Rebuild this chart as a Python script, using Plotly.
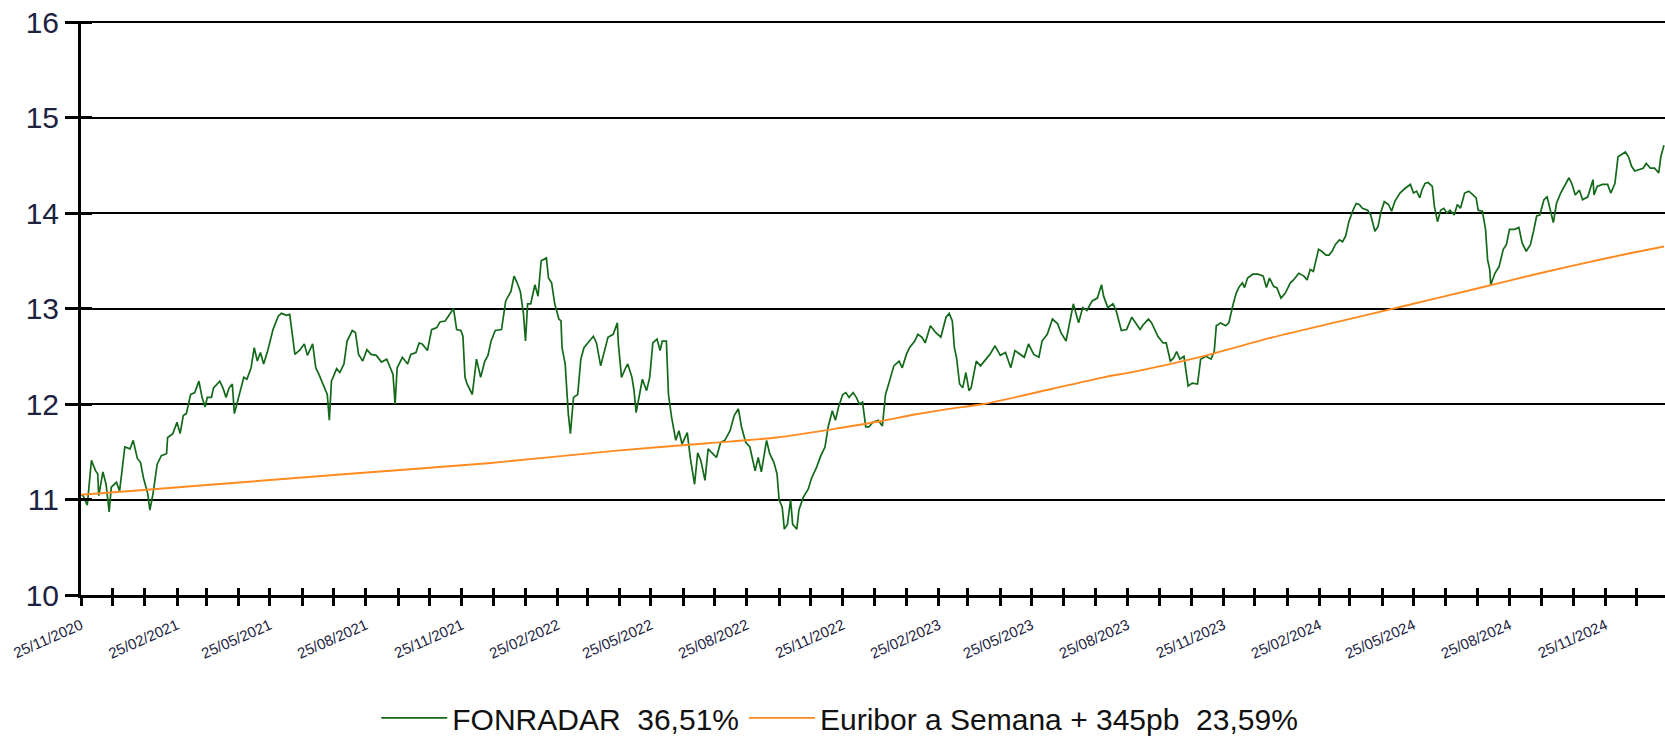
import pandas as pd
import plotly.graph_objects as go

# ---------------- data ----------------
start_date = "2020-11-25"

# FONRADAR: days elapsed since 25/11/2020, and value
fon_days = [0, 2, 6, 10, 14, 16, 17, 21, 24, 27, 29, 34, 37, 42, 47, 50, 54, 57, 60, 64, 66, 69, 73, 77, 82, 83,
            88, 92, 95, 98, 101, 105, 109, 113, 116, 119, 121, 125, 127, 133, 136, 139, 142, 145, 147, 151, 156,
            159, 163, 166, 169, 172, 175, 179, 184, 189, 192, 197, 200, 205, 210, 214, 217, 222, 225, 228, 232,
            236, 238, 240, 245, 248, 252, 255, 260, 263, 266, 270, 274, 278, 283, 288, 293, 296, 299, 301, 303,
            308, 313, 316, 321, 324, 327, 332, 336, 341, 344, 349, 352, 355, 357, 360, 364, 366, 368, 370, 375,
            379, 383, 387, 390, 393, 397, 403, 407, 412, 415, 418, 421, 424, 426, 428, 431, 435, 438, 441, 446,
            448, 451, 454, 458, 460, 461, 464, 467, 469, 472, 476, 479, 482, 487, 491, 494, 498, 502,
            505, 510, 514, 515, 518, 522, 524, 528, 530, 532, 535, 538, 542, 545, 548, 552, 555, 557, 561, 563,
            566, 570, 573, 576, 581, 584, 588, 591, 594, 598, 601, 605, 609, 613, 617, 622, 626, 630, 633, 637,
            641, 646, 649, 652, 654, 657, 660, 664, 667, 669, 672, 674, 677, 680, 682, 686, 688, 692, 697, 700,
            705, 709, 713, 716, 720, 723, 726, 730, 733, 736, 740, 743, 746, 749, 752, 755, 759, 764, 768, 771,
            774, 779, 784, 787, 791, 794, 799, 802, 806, 809, 814, 819, 824, 829, 832, 835, 837, 839, 842, 845,
            848, 851, 853, 858, 862, 867, 871, 876, 881, 886, 891, 895, 900, 904, 908, 913, 918, 921, 926, 931,
            936, 939, 944, 947, 951, 956, 960, 964, 969, 974, 978, 980, 984, 989, 992, 997, 1002, 1007,
            1015, 1018, 1023, 1026, 1029, 1032, 1037, 1040, 1044, 1047, 1050, 1053, 1057, 1058, 1061, 1065, 1070,
            1073, 1078, 1083, 1086, 1088, 1092, 1097, 1100, 1104, 1107, 1110, 1113, 1115, 1118, 1123, 1128, 1133,
            1136, 1139, 1143, 1146, 1150, 1154, 1159, 1162, 1167, 1172, 1175, 1178, 1181, 1186, 1189, 1193, 1196,
            1199, 1202, 1206, 1209, 1212, 1215, 1219, 1222, 1225, 1228, 1233, 1236, 1240, 1243, 1246, 1249, 1253,
            1256, 1259, 1264, 1269, 1274, 1277, 1280, 1283, 1285, 1288, 1291, 1295, 1297, 1300, 1303, 1306, 1309,
            1312, 1316, 1319, 1322, 1326, 1330, 1334, 1337, 1339, 1343, 1346, 1348, 1350, 1351, 1355, 1359, 1363,
            1366, 1369, 1374, 1378, 1381, 1385, 1389, 1392, 1395, 1398, 1402, 1405, 1408, 1411, 1414, 1418, 1423,
            1426, 1429, 1432, 1436, 1439, 1444, 1449, 1450, 1453, 1458, 1463, 1466, 1470, 1473, 1476, 1480, 1483,
            1486, 1489, 1494, 1497, 1500, 1504, 1508, 1512, 1514, 1517]
fon_values = [11.05, 11.04, 10.94, 11.41, 11.30, 11.27, 11.04, 11.29, 11.16, 10.87, 11.13, 11.18, 11.09, 11.55,
              11.53, 11.62, 11.43, 11.39, 11.22, 11.06, 10.89, 11.06, 11.37, 11.46, 11.48, 11.65,
              11.69, 11.81, 11.69, 11.88, 11.90, 12.10, 12.12, 12.24, 12.07, 11.97, 12.07, 12.07, 12.17, 12.24,
              12.17, 12.07, 12.17, 12.21, 11.90, 12.07, 12.28,
              12.26, 12.38, 12.59, 12.45, 12.54, 12.42, 12.56, 12.78, 12.92, 12.95, 12.93, 12.94, 12.52, 12.57,
              12.63, 12.51, 12.63, 12.38, 12.31, 12.21,
              12.10, 11.83, 12.24, 12.37, 12.33, 12.42, 12.66, 12.77, 12.75, 12.52, 12.45, 12.57, 12.52, 12.51,
              12.44, 12.47, 12.38, 12.31, 12.00, 12.38,
              12.49, 12.42, 12.52, 12.54, 12.64, 12.63, 12.56, 12.78, 12.80, 12.86, 12.87, 12.92, 12.97, 13.00,
              12.78, 12.77, 12.71, 12.28, 12.21, 12.10,
              12.47, 12.28, 12.45, 12.51, 12.66, 12.77, 12.78, 13.08, 13.18, 13.34, 13.27, 13.18, 12.95, 12.66,
              13.05, 13.05, 13.25, 13.13, 13.50, 13.53,
              13.32, 13.27, 13.05, 12.89, 12.87, 12.59, 12.42, 11.90, 11.69, 12.07, 12.10, 12.47, 12.59, 12.66,
              12.71, 12.64, 12.40, 12.57,
              12.70, 12.73, 12.85, 12.63, 12.28, 12.38, 12.42, 12.28, 12.14, 11.91, 12.10, 12.26, 12.14, 12.28,
              12.64, 12.68, 12.56, 12.66, 12.66, 12.10,
              11.86, 11.62, 11.72, 11.58, 11.70, 11.43, 11.16, 11.49, 11.41, 11.20, 11.53, 11.48, 11.44, 11.60,
              11.62, 11.72, 11.88, 11.95, 11.76, 11.60,
              11.55, 11.30, 11.44, 11.29, 11.44, 11.62, 11.48, 11.39, 11.27, 11.00, 10.92, 10.69, 10.74, 11.00,
              10.74, 10.69, 10.89, 11.02, 11.11, 11.22,
              11.34, 11.46, 11.55, 11.76, 11.93, 11.83, 11.97, 12.10, 12.12, 12.07, 12.12, 12.07, 12.00, 12.02,
              11.76, 11.76, 11.81, 11.83, 11.77, 12.10,
              12.21, 12.40, 12.45, 12.38, 12.52, 12.59, 12.66, 12.73, 12.70, 12.64, 12.82, 12.75, 12.70, 12.91,
              12.95, 12.87, 12.59, 12.49, 12.21, 12.17,
              12.33, 12.14, 12.17, 12.45, 12.40, 12.47, 12.52, 12.61, 12.51, 12.54, 12.38, 12.56, 12.52, 12.49,
              12.63, 12.52, 12.49, 12.66, 12.73, 12.89,
              12.84, 12.75, 12.66, 12.84, 13.05, 12.85, 13.01, 12.98, 13.08, 13.11, 13.25, 13.13, 13.01, 13.05,
              12.98, 12.77, 12.78, 12.91,
              12.78, 12.83, 12.89, 12.85, 12.78, 12.71, 12.64, 12.64, 12.45, 12.48, 12.55, 12.47, 12.50, 12.43,
              12.19, 12.22, 12.21,
              12.47, 12.50, 12.47, 12.55, 12.82, 12.85, 12.82, 12.85, 13.04, 13.16, 13.23, 13.27, 13.22, 13.32,
              13.36, 13.36, 13.34,
              13.22, 13.32, 13.23, 13.22, 13.11, 13.16, 13.27, 13.30, 13.37, 13.34, 13.30, 13.41, 13.39, 13.62,
              13.60, 13.56, 13.56,
              13.60, 13.67, 13.72, 13.70, 13.76, 13.91, 14.03, 14.10, 14.09, 14.05, 14.03, 13.98, 13.81, 13.86,
              14.02, 14.12, 14.09,
              14.02, 14.12, 14.21, 14.26, 14.30, 14.21, 14.23, 14.16, 14.24, 14.31, 14.32, 14.28, 14.07, 13.91,
              14.03, 14.05, 14.00,
              14.03, 13.98, 14.09, 14.05, 14.21, 14.23, 14.19, 14.16, 14.03, 14.02, 13.83, 13.51, 13.41, 13.25,
              13.37, 13.44, 13.62,
              13.67, 13.83, 13.83, 13.85, 13.69, 13.60, 13.67, 13.81, 13.97, 13.98, 14.14, 14.17, 14.02, 13.90,
              14.10, 14.21, 14.31,
              14.37, 14.30, 14.19, 14.24, 14.14, 14.17, 14.35, 14.19, 14.28, 14.30, 14.30, 14.21, 14.31, 14.59,
              14.61, 14.64, 14.59,
              14.49, 14.44, 14.46, 14.47, 14.52, 14.47, 14.47, 14.42, 14.59, 14.71]

# Euribor a Semana + 345pb benchmark: days elapsed since 25/11/2020, and value
eur_days = [0, 60, 258, 390, 511, 601, 667, 733, 766, 799, 832, 865, 931, 980, 1010, 1075, 1139, 1204, 1269,
            1334, 1398, 1463, 1517]
eur_values = [11.05, 11.10, 11.27, 11.38, 11.51, 11.59, 11.65, 11.76, 11.82, 11.89, 11.95, 12.00, 12.16, 12.28,
              12.34, 12.50, 12.69, 12.86, 13.03, 13.20, 13.37, 13.53, 13.65]

series_names = ["FONRADAR\u00a0 36,51%", "Euribor a Semana + 345pb\u00a0 23,59%"]

tick_labels = ["25/11/2020", "25/02/2021", "25/05/2021", "25/08/2021", "25/11/2021", "25/02/2022",
               "25/05/2022", "25/08/2022", "25/11/2022", "25/02/2023", "25/05/2023", "25/08/2023",
               "25/11/2023", "25/02/2024", "25/05/2024", "25/08/2024", "25/11/2024"]
y_ticks = [10, 11, 12, 13, 14, 15, 16]
y_range = [10, 16.012]   # tiny headroom so the top (16) gridline is drawn
last_day_shown = 1518

# ---------------- build ----------------
t0 = pd.Timestamp(start_date)
fon_x = t0 + pd.to_timedelta(fon_days, unit="D")
eur_x = t0 + pd.to_timedelta(eur_days, unit="D")
x_end = t0 + pd.Timedelta(days=last_day_shown)

month_ticks = pd.date_range(t0, x_end, freq=pd.DateOffset(months=1))
month_text = [d.strftime("%d/%m/%Y") if d.strftime("%d/%m/%Y") in tick_labels else "" for d in month_ticks]

GREEN = "#13691a"
ORANGE = "#ff8a1f"
TXT = "#1c2340"
FONT = "Liberation Sans, Arial, sans-serif"

fig = go.Figure()
fig.add_trace(go.Scatter(x=fon_x, y=fon_values, mode="lines", name=series_names[0],
                         line=dict(color=GREEN, width=1.7)))
fig.add_trace(go.Scatter(x=eur_x, y=eur_values, mode="lines", name=series_names[1],
                         line=dict(color=ORANGE, width=1.9, shape="spline", smoothing=0.8)))
# invisible helper on overlay axes (gives inside half of the crossing ticks)
fig.add_trace(go.Scatter(x=[t0], y=[y_ticks[0]], xaxis="x2", yaxis="y2", mode="markers",
                         marker=dict(opacity=0), showlegend=False, hoverinfo="skip"))

fig.update_layout(
    width=1665, height=737,
    margin=dict(l=81, r=0, t=21, b=142, autoexpand=False),
    paper_bgcolor="white", plot_bgcolor="white",
    font=dict(family=FONT, color=TXT),
    showlegend=True,
    legend=dict(orientation="h", x=0.479, xanchor="center", y=-0.214, yanchor="middle",
                font=dict(size=30, family=FONT, color="#111111"), bgcolor="rgba(0,0,0,0)",
                itemwidth=66, tracegroupgap=0),
    xaxis=dict(range=[t0, x_end], tickmode="array", tickvals=month_ticks, ticktext=month_text,
               tickangle=-24, tickfont=dict(size=15, family=FONT, color=TXT), automargin=False,
               ticks="outside", ticklen=8, tickwidth=3, tickcolor="black", ticklabelstandoff=5,
               showline=True, linecolor="black", linewidth=3, showgrid=False, zeroline=False),
    yaxis=dict(range=y_range, tickmode="array", tickvals=y_ticks, automargin=False,
               tickfont=dict(size=30, family=FONT, color=TXT),
               ticks="outside", ticklen=13, tickwidth=3, tickcolor="black",
               showline=True, linecolor="black", linewidth=3,
               showgrid=True, gridcolor="black", gridwidth=1.6, zeroline=False),
    xaxis2=dict(overlaying="x", matches="x", anchor="y", side="bottom", tickmode="array",
                tickvals=month_ticks, showticklabels=False, ticks="inside", ticklen=7, tickwidth=3,
                tickcolor="black", showline=False, showgrid=False, zeroline=False, automargin=False),
    yaxis2=dict(overlaying="y", matches="y", anchor="x", side="left", tickmode="array",
                tickvals=y_ticks, showticklabels=False, ticks="inside", ticklen=11, tickwidth=3,
                tickcolor="black", showline=False, showgrid=False, zeroline=False, automargin=False),
)

# remove the default 8px page margin so the 1665x737 figure fills the window exactly
fig.write_html("out.html", config={"displayModeBar": False},
               post_script="document.body.style.margin='0px';document.body.style.overflow='hidden';")
